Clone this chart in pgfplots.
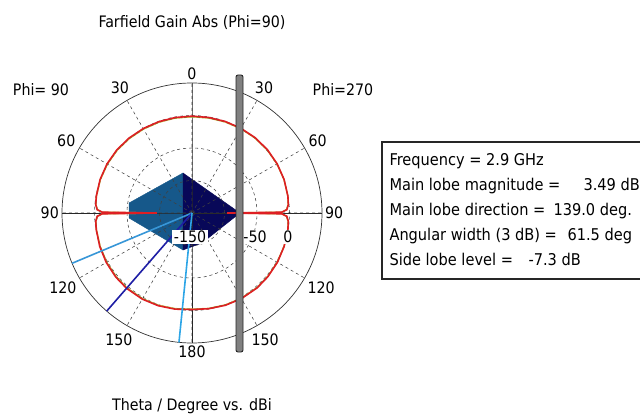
\documentclass[border=0pt]{standalone}
\usepackage{pgfplots}
\pgfplotsset{compat=1.18}
\usepgfplotslibrary{polar}
\usepackage{pgfplotstable}
\usepackage{fontspec}
\setmainfont{DejaVu Sans Condensed}

\definecolor{redc}{RGB}{222,30,35}
\definecolor{greenc}{RGB}{80,150,50}
\definecolor{yellowc}{RGB}{215,200,90}
\definecolor{lightdia}{RGB}{22,88,138}
\definecolor{darkdia}{RGB}{8,8,88}
\definecolor{lbA}{RGB}{55,150,215}
\definecolor{navyl}{RGB}{30,30,165}
\definecolor{lbB}{RGB}{45,165,230}

% red curve, Phi=270 (right half): theta / dBi
\pgfplotstableread{
theta dB
0 -1.0
10 -0.8
20 -0.2
30 0.5
40 1.2
50 1.5
60 1.3
70 0.8
80 -0.2
85 -1.2
88 -4
89.5 -12
90 -96
90.5 -12
92 -4
95 -1.2
100 -0.2
110 0.8
120 1.8
130 2.4
139 2.7
150 2.1
160 1.0
170 -0.5
180 -1.5
}\redright
% red curve, Phi=90 (left half)
\pgfplotstableread{
theta dB
0 -1.0
10 -0.9
20 -0.5
30 0.0
40 0.6
50 1.0
60 1.0
70 0.5
80 -0.5
85 -1.3
88 -4
89.5 -12
90 -96
90.5 -12
92 -4
95 -1.3
100 -0.5
110 1.0
120 2.3
130 3.2
139 3.49
150 3.0
160 1.8
170 0.2
180 -1.5
}\redleft
% second (green) curve, right half
\pgfplotstableread{
theta dB
0 -2.0
10 -1.7
20 -1.0
30 -0.2
40 0.6
50 1.0
60 1.0
70 0.6
80 -0.3
85 -1.5
88 -4.5
89.5 -12
90 -96
90.5 -12
92 -4.5
95 -1.5
100 -0.4
110 0.6
120 1.4
130 2.0
139 2.2
150 1.6
160 0.4
170 -1.0
180 -2.0
}\greenright
% second (green) curve, left half
\pgfplotstableread{
theta dB
0 -2.0
10 -1.8
20 -1.4
30 -0.9
40 -0.3
50 0.2
60 0.3
70 0.0
80 -0.8
85 -1.6
88 -4.5
89.5 -12
90 -96
90.5 -12
92 -4.5
95 -1.6
100 -0.8
110 0.3
120 1.5
130 2.3
139 2.6
150 2.2
160 1.0
170 -0.6
180 -2.0
}\greenleft

\pgfplotsset{canvas/.style={hide axis, scale only axis, width=640pt, height=417pt,
  xmin=0, xmax=640, ymin=0, ymax=417, y dir=reverse, clip=false,
  at={(0pt,0pt)}, anchor=south west}}
\newcommand{\tf}{\fontsize{15.8}{19}\selectfont}
\newcommand{\boxf}{\fontsize{16.2}{19}\selectfont}

\begin{document}
\begin{tikzpicture}
\useasboundingbox (0pt,0pt) rectangle (640pt,417pt);
% ---------- background layer: diamond, titles, info box ----------
\begin{axis}[canvas]
\addplot[fill=lightdia, draw=lightdia] coordinates {(183,173) (129,203) (129,218) (183,250)} -- cycle;
\addplot[fill=darkdia, draw=darkdia] coordinates {(183,173) (240,213) (202,243) (183,250)} -- cycle;
\node[font=\tf] at (axis cs:192,23) {Farfield Gain Abs (Phi=90)};
\node[font=\tf] at (axis cs:192,406) {Theta / Degree vs. dBi};
\node[font=\tf] at (axis cs:41,90) {Phi= 90};
\node[font=\tf] at (axis cs:343,90) {Phi=270};
\addplot[draw=black!85, line width=1.6pt] coordinates {(650,142) (382,142) (382,279) (650,279)};
\node[font=\boxf, anchor=base west] at (axis cs:386,165) {Frequency = 2.9 GHz};
\node[font=\boxf, anchor=base west] at (axis cs:386,190) {Main lobe magnitude =};
\node[font=\boxf, anchor=base west] at (axis cs:580,190) {3.49 dB};
\node[font=\boxf, anchor=base west] at (axis cs:386,215) {Main lobe direction =};
\node[font=\boxf, anchor=base west] at (axis cs:550,215) {139.0 deg.};
\node[font=\boxf, anchor=base west] at (axis cs:386,240) {Angular width (3 dB) =};
\node[font=\boxf, anchor=base west] at (axis cs:564,240) {61.5 deg};
\node[font=\boxf, anchor=base west] at (axis cs:386,265) {Side lobe level =};
\node[font=\boxf, anchor=base west] at (axis cs:525,265) {-7.3 dB};
\end{axis}
% ---------- polar plot ----------
\begin{polaraxis}[
  at={(192pt,204pt)}, anchor=center,
  scale only axis, width=260pt, height=260pt,
  xmin=0, xmax=360, ymin=0, ymax=200,
  xtick={0,30,...,330},
  xticklabels={90,60,30,0,30,60,90,120,150,180,150,120},
  ytick={50,100,150}, yticklabels={},
  grid=major,
  major grid style={black!75, dashed, line width=0.55pt},
  axis line style={black!80, line width=0.7pt},
  tick style={draw=none},
  xticklabel style={font=\tf, inner sep=3pt},
]
\addplot[black!85, line width=0.7pt] coordinates {(0,200) (0,0) (180,200)};
\addplot[black!85, line width=0.7pt] coordinates {(90,200) (90,0) (270,200)};
\addplot[yellowc, line width=1.4pt] table[x expr=90-\thisrow{theta}, y expr=\thisrow{dB}+150] {\greenright};
\addplot[yellowc, line width=1.4pt] table[x expr=90+\thisrow{theta}, y expr=\thisrow{dB}+150] {\greenleft};
\addplot[greenc, line width=0.9pt, densely dashed] table[x expr=90-\thisrow{theta}, y expr=\thisrow{dB}+150] {\greenright};
\addplot[greenc, line width=0.9pt, densely dashed] table[x expr=90+\thisrow{theta}, y expr=\thisrow{dB}+150] {\greenleft};
\addplot[redc, line width=1.6pt] table[x expr=90-\thisrow{theta}, y expr=\thisrow{dB}+150] {\redright};
\addplot[redc, line width=1.6pt] table[x expr=90+\thisrow{theta}, y expr=\thisrow{dB}+150] {\redleft};
% 3 dB limits and main lobe direction (theta = 112.75, 139.0, 174.25 on Phi=90 side)
\addplot[lbA, line width=1.6pt] coordinates {(202.75,0) (202.75,200)};
\addplot[navyl, line width=1.6pt] coordinates {(229,0) (229,200)};
\addplot[lbB, line width=1.6pt] coordinates {(264.25,0) (264.25,200)};
\end{polaraxis}
% ---------- foreground: radial labels and scale bar ----------
\begin{axis}[canvas]
\node[font=\tf, fill=white, inner sep=1.5pt] at (axis cs:190,237) {-150};
\node[font=\tf, fill=white, inner sep=1.5pt] at (axis cs:255,237) {-50};
\node[font=\tf, fill=white, inner sep=1pt] at (axis cs:288,237) {0};
\addplot[fill=black!50, draw=black!85, line width=0.9pt, rounded corners=2pt] coordinates {(236,75) (243,75) (243,352) (236,352)} -- cycle;
\end{axis}
\end{tikzpicture}
\end{document}
